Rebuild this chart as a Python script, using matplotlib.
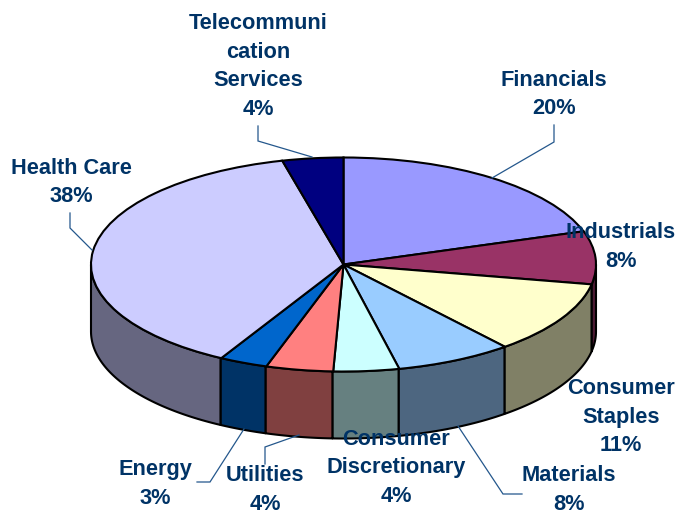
"""Flattened 3D pie of sector weights."""
import matplotlib
matplotlib.use("Agg")
import matplotlib.pyplot as plt
import numpy as np

# ── Data ──────────────────────────────────────────────────────────────────
sectors = ["Financials", "Industrials", "Consumer Staples", "Materials",
           "Consumer Discretionary", "Utilities", "Energy", "Health Care",
           "Telecommunication Services"]
weights = [20.0, 8.0, 11.0, 7.5, 4.2, 4.3, 3.1, 38.1, 3.9]
top_colors = ["#9999FF", "#993366", "#FFFFCC", "#99CCFF", "#CCFFFF",
              "#FF8080", "#0066CC", "#CCCCFF", "#000080"]
side_colors = ["#4D4D80", "#4D1A33", "#808066", "#4D6680", "#668080",
               "#804040", "#003366", "#666680", "#000040"]
label_lines = ["Financials", "Industrials", "Consumer\nStaples", "Materials",
               "Consumer\nDiscretionary", "Utilities", "Energy", "Health Care",
               "Telecommuni\ncation\nServices"]

# ── Layout (pixels of the 677x515 image) ──────────────────────────────────
W, H = 677, 515
cx, cy = 343.5, 264.5   # centre of the top face
rx, ry = 252.5, 107.0   # radii of the top ellipse
depth = 67.0 / ry       # wall height in pie units

# Materials and Utilities sit a few px high so they stay inside the image
label_pos = [(554, 94.5), (621, 247), (621, 417), (569, 490), (396, 468),
             (265, 490), (155, 484), (71, 182.5), (258, 66.5)]
leaders = [
    [(554, 125), (554, 142), (492, 178)],
    None,
    None,
    [(522, 494), (503, 494), (458, 426)],
    None,
    [(265, 464), (265, 447), (299, 435)],
    [(197, 482), (210, 482), (244, 429)],
    [(70, 213), (70, 228), (92, 250)],
    [(258, 126), (258, 141), (312, 157)],
]

TEXT_BLUE = "#003366"
LEADER_BLUE = "#24578C"
EDGE_LW = 1.5

fig = plt.figure(figsize=(W / 100, H / 100), dpi=100)

# Pie axes: one data unit is rx wide and ry high, so the circle flattens
ax = fig.add_axes([0, 0, 1, 1])
ax.pie(weights, colors=top_colors, startangle=90, counterclock=False,
       radius=1.0, wedgeprops=dict(edgecolor="black", linewidth=EDGE_LW, zorder=3))
ax.set_aspect("auto")
ax.set_xlim(-cx / rx, (W - cx) / rx)
ax.set_ylim((cy - H) / ry, cy / ry)
ax.axis("off")

# ── Walls: only the part of each slice on the front half shows ────────────
edges = np.cumsum([0.0] + weights) * 3.6
for i in range(len(weights)):
    a0 = max(edges[i], 90.0)
    a1 = min(edges[i + 1], 270.0)
    if a1 <= a0:
        continue
    t = np.radians(np.linspace(a0, a1, 80))
    x = np.sin(t)
    y = np.cos(t)
    ax.fill(np.r_[x, x[::-1]], np.r_[y, y[::-1] - depth],
            facecolor=side_colors[i], edgecolor="black",
            linewidth=EDGE_LW, zorder=2, joinstyle="round")

# ── Labels and leader lines, placed in image pixels ───────────────────────
ov = fig.add_axes([0, 0, 1, 1])
ov.set_xlim(0, W)
ov.set_ylim(H, 0)
ov.axis("off")

for name, w, (tx, ty), lead in zip(label_lines, weights, label_pos, leaders):
    if lead is not None:
        xs, ys = zip(*lead)
        ov.plot(xs, ys, color=LEADER_BLUE, lw=0.9, solid_joinstyle="miter")
    ov.text(tx, ty, f"{name}\n{w:.0f}%", ha="center", va="center",
            color=TEXT_BLUE, fontsize=15.7, fontweight="bold",
            family="Liberation Sans", linespacing=1.48)

fig.savefig("out.png", dpi=100)
plt.close()
